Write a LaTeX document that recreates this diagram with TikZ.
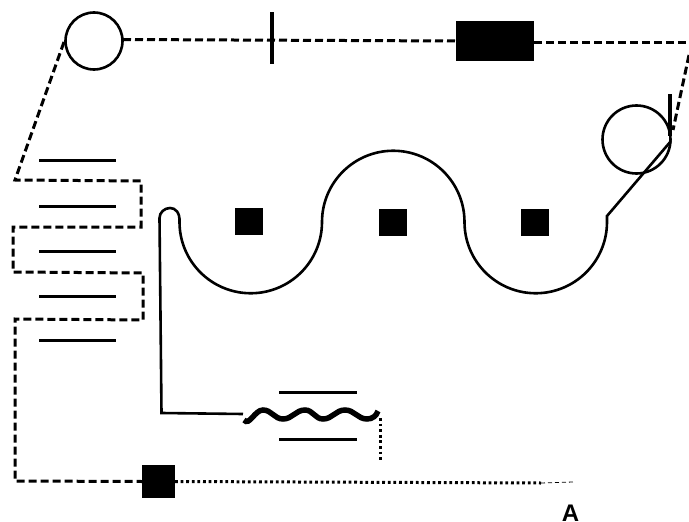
\documentclass[tikz,border=0pt]{standalone}
\usepackage{fontspec}
\setmainfont{Liberation Sans}
\tikzset{
  x=1pt,y=-1pt,
  solidline/.style={line width=2.6pt,black},
  dashline/.style={line width=3pt,black,dash pattern=on 8pt off 4pt},
  dotline/.style={line width=3pt,black,dash pattern=on 2.8pt off 2.8pt},
  thindash/.style={line width=0.8pt,black,dash pattern=on 4pt off 3pt},
  ring/.style={circle,draw=black,line width=2.6pt,fill=none,inner sep=0pt,outer sep=0pt},
  block/.style={rectangle,fill=black,draw=none,inner sep=0pt,outer sep=0pt},
  plate/.style={line width=3pt,black},
  pt/.style={inner sep=0pt,outer sep=0pt,minimum size=0pt}
}
\begin{document}
\begin{tikzpicture}
\useasboundingbox (0,0) rectangle (689,522);
% top components
\node[ring,minimum size=57pt] (rollA) at (94,41) {};
\node[ring,minimum size=68pt] (rollB) at (636.5,139.5) {};
\node[block,minimum width=78pt,minimum height=40pt] (heater) at (495,41) {};
\node[block,minimum width=4pt,minimum height=52pt] (bar) at (272,38) {};
\node[block,minimum width=4pt,minimum height=42pt] (stub) at (669.7,115) {};
% bath squares
\node[block,minimum width=28pt,minimum height=27pt] (sqA) at (249,221.5) {};
\node[block,minimum width=28pt,minimum height=27pt] (sqB) at (393,222.5) {};
\node[block,minimum width=28pt,minimum height=27pt] (sqC) at (535,222.5) {};
\node[block,minimum width=33pt,minimum height=33pt] (sqD) at (158.5,481.5) {};
% way points
\coordinate (tl) at (123,39.5);
\coordinate (tm) at (456,41);
\coordinate (tq) at (534,42);
\coordinate (tr) at (689,42);
\coordinate (trb) at (689,55);
\coordinate (tan) at (673,130);
\coordinate (lf) at (64,42);
\coordinate (s1) at (15,180);
\coordinate (s2) at (141,181);
\coordinate (s3) at (141,227);
\coordinate (s4) at (13,227);
\coordinate (s5) at (13,272);
\coordinate (s6) at (143,273);
\coordinate (s7) at (143,320);
\coordinate (s8) at (15,319);
\coordinate (s9) at (15,481);
\coordinate (w0) at (607,216);
\coordinate (w1) at (671,141);
\coordinate (c1) at (607,222);
\coordinate (l1) at (159.5,218);
\coordinate (l2) at (161.5,413);
\coordinate (l3) at (243,414);
\coordinate (k0) at (244,420);
\coordinate (k1) at (263,410);
\coordinate (k2) at (283,419);
\coordinate (k3) at (305,410);
\coordinate (k4) at (323,419);
\coordinate (k5) at (345,410);
\coordinate (k6) at (367,419);
\coordinate (k7) at (378,411);
\coordinate (d1) at (380,418);
\coordinate (d2) at (380,462);
\coordinate (e1) at (541,483);
\coordinate (e2) at (573,482);
% dashed web
\draw[dashline] (tl) -- (tm);
\draw[dashline] (tq) -- (tr);
\draw[dashline] (trb) -- (tan);
\draw[dashline] (lf) -- (s1) -- (s2) -- (s3) -- (s4) -- (s5) -- (s6) -- (s7) -- (s8) -- (s9) -- (sqD.west);
% bath curve
\draw[solidline] (w1) -- (w0) -- (c1) arc[start angle=0,end angle=180,x radius=71.25,y radius=71.25]
  arc[start angle=0,end angle=180,x radius=71.25,y radius=-71.25] arc[start angle=0,end angle=180,x radius=71.25,y radius=71.25]
  .. controls (180,212.5) and (175.5,208) .. (170,208) .. controls (164.5,208) and (159.5,212.5) .. (l1) -- (l2) -- (l3);
% coil
\draw[line width=5.5pt,black] (k0) to[out=-50,in=180] (k1) to[out=0,in=180] (k2) to[out=0,in=180] (k3)
  to[out=0,in=180] (k4) to[out=0,in=180] (k5) to[out=0,in=180] (k6) to[out=0,in=-110] (k7);
% dotted
\draw[dotline] (d1) -- (d2);
\draw[dotline] (sqD.east) -- (e1);
\draw[thindash] (e1) -- (e2);
% plates
\coordinate (p1a) at (39,160); \coordinate (p1b) at (116,160);
\coordinate (p2a) at (39,206); \coordinate (p2b) at (116,206);
\coordinate (p3a) at (39,251); \coordinate (p3b) at (116,251);
\coordinate (p4a) at (39,296); \coordinate (p4b) at (116,296);
\coordinate (p5a) at (39,340); \coordinate (p5b) at (116,340);
\coordinate (p6a) at (279,392); \coordinate (p6b) at (357,392);
\coordinate (p7a) at (279,439); \coordinate (p7b) at (357,439);
\foreach \n in {1,...,7} \draw[plate] (p\n a) -- (p\n b);
\node[font=\bfseries\fontsize{24}{24}\selectfont,pt,anchor=base] (lblA) at (570.5,521) {A};
\end{tikzpicture}
\end{document}
